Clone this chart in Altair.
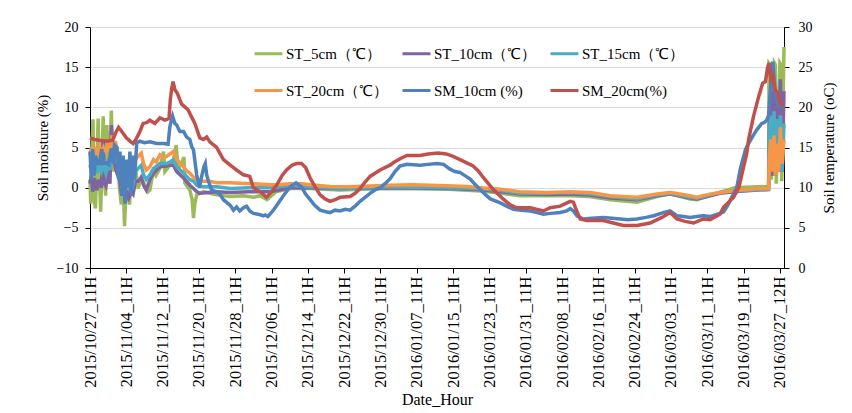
import altair as alt
import pandas as pd

series_names = ["ST_5cm（℃）", "ST_10cm（℃）", "ST_15cm（℃）",
                "ST_20cm（℃）", "SM_10cm (%)", "SM_20cm(%)"]
series_colors = ["#9BBB59", "#8064A2", "#4BACC6", "#F79646", "#4F81BD", "#C0504D"]

tick_days = [0, 8, 16, 24, 32, 40, 48, 56, 64, 72, 80, 88, 96, 104, 112, 120, 128, 136, 144, 152]
tick_labels = ["2015/10/27_11H", "2015/11/04_11H", "2015/11/12_11H", "2015/11/20_11H",
               "2015/11/28_11H", "2015/12/06_11H", "2015/12/14_11H", "2015/12/22_11H",
               "2015/12/30_11H", "2016/01/07_11H", "2016/01/15_11H", "2016/01/23_11H",
               "2016/01/31_11H", "2016/02/08_11H", "2016/02/16_11H", "2016/02/24_11H",
               "2016/03/03_11H", "2016/03/11_11H", "2016/03/19_11H", "2016/03/27_12H"]

# (day since 2015/10/27 11H, value) -- ST in degC (left axis), SM in % (right axis)
st5 = [(0, 1.0), (0.15, -2.0), (0.4, 4.5), (0.66, 8.5), (0.9, -1.5), (1.2, -2.6), (1.5, 3.0),
       (1.8, 8.6), (2.1, 1.0), (2.35, -3.0), (2.6, 2.0), (2.9, 8.9), (3.2, 1.0), (3.45, -1.0),
       (3.7, 7.8), (4.0, 2.0), (4.2, 1.2), (4.7, 9.6), (5.0, 3.0), (5.2, 2.0), (5.6, 5.2),
       (6.0, 5.0), (6.5, -0.1), (6.9, -2.1), (7.2, 3.7), (7.6, -4.8), (7.9, -0.9), (8.4, 1.2),
       (8.7, -2.1), (9.1, 1.6), (9.5, -0.5), (9.8, 3.3), (10.6, -0.1), (11.3, 1.2), (12.0, 0.4),
       (12.8, -0.5), (13.2, -0.3), (13.9, 2.0), (14.5, 1.5), (15.4, 2.4), (16.2, 4.5), (16.5, 2.0),
       (17.6, 2.8), (18.4, 3.5), (19.0, 5.3), (19.4, 2.4), (20.0, 2.8), (20.7, 3.8), (20.9, 0.6),
       (22.0, -0.3), (22.5, -1.5), (22.8, -3.8), (23.1, -2.0), (23.5, -0.9), (25, -0.5),
       (27.9, -0.9), (30.9, -1.1), (33.8, -1.0), (36, -1.2), (37.5, -1.0), (39, -1.5), (41, -0.5),
       (44, -0.1), (48.5, -0.1), (55, -0.3), (60, -0.2), (66, -0.1), (71, -0.15), (79, -0.2),
       (86, -0.4), (90.4, -0.7), (94.8, -1.0), (100.7, -1.0), (105.8, -1.0), (110, -1.1),
       (114.6, -1.5), (120.5, -1.8), (124.9, -1.1), (127.8, -0.75), (132.2, -1.4), (133.7, -1.5),
       (136.6, -1.0), (138.8, -0.6), (142, 0.0), (147, 0.1), (149.5, 0.15), (149.6, 15.5),
       (149.9, 15.3), (150.1, 1.0), (150.8, 15.5), (151.0, 15.3), (151.2, 0.5), (152.0, 15.5),
       (152.2, 15.3), (152.4, 0.8), (152.9, 17.5)]

st10 = [(0, 0.5), (0.3, 1.5), (0.6, -0.5), (1.0, 1.2), (1.5, -0.3), (2.0, 1.0), (2.5, 0.0),
        (2.9, 6.0), (3.2, 0.5), (3.5, 0.2), (4.0, 2.0), (4.4, 0.5), (4.7, 7.8), (5.2, 3.5),
        (5.8, 2.0), (6.5, 1.0), (7.0, -1.0), (7.4, 0.5), (7.8, -1.8), (8.2, -0.3), (8.6, -1.2),
        (9.1, -0.5), (9.5, -0.8), (10.0, 0.8), (10.6, 0.8), (11.3, 1.3), (11.8, 0.3), (12.4, -0.3),
        (13.2, 1.0), (14.0, 1.8), (15.4, 2.6), (16.9, 2.7), (17.6, 2.8), (18.4, 2.8), (19.1, 2.0),
        (20.6, 1.2), (22.0, 0.3), (22.8, -0.1), (23.5, -0.5), (24.2, -0.7), (27.9, -0.5),
        (30.9, -0.6), (35, -0.5), (39.7, -0.5), (44.1, 0.0), (48.5, 0.0), (55, -0.15), (60, -0.05),
        (66, 0.0), (71, -0.05), (79, -0.1), (86, -0.25), (90.4, -0.5), (94.8, -0.8), (100.7, -0.85),
        (105.8, -0.8), (110, -0.9), (114.6, -1.3), (120.5, -1.5), (124.9, -1.0), (127.8, -0.8),
        (132.2, -1.3), (133.7, -1.4), (136.6, -1.0), (138.8, -0.7), (142, -0.5), (147, -0.3),
        (149.5, -0.25), (149.7, 8.0), (150.0, 13.0), (150.3, 1.5), (150.7, 12.0), (151.0, 1.5),
        (151.4, 11.0), (151.7, 2.0), (152.1, 13.5), (152.5, 2.0), (152.9, 12.0)]

st15 = [(0, 2.5), (0.3, 3.3), (0.6, 1.5), (1.0, 3.0), (1.5, 1.8), (2.0, 3.0), (2.5, 2.0),
        (3.0, 2.8), (3.5, 1.8), (4.0, 3.0), (4.5, 2.2), (4.8, 5.0), (5.2, 3.0), (5.6, 4.5),
        (6.0, 3.5), (6.5, 2.5), (7.0, 0.5), (7.4, 1.8), (7.8, -0.2), (8.2, 1.2), (8.6, 0.2),
        (9.1, 1.0), (9.5, 0.5), (10.0, 2.0), (10.6, 2.4), (11.3, 2.8), (11.8, 1.6), (12.4, 1.0),
        (13.2, 1.6), (14.0, 2.4), (15.4, 3.0), (16.9, 3.0), (17.6, 3.2), (18.4, 3.5), (19.1, 2.6),
        (20.6, 1.8), (22.0, 1.0), (22.8, 0.8), (23.5, 0.3), (25, 0.1), (27.9, 0.1), (30.9, -0.1),
        (35, 0.0), (39.7, 0.0), (44.1, 0.3), (48.5, 0.1), (55, -0.1), (60, 0.0), (66, 0.1),
        (71, 0.05), (79, 0.0), (86, -0.15), (90.4, -0.35), (94.8, -0.7), (100.7, -0.7),
        (105.8, -0.6), (110, -0.75), (114.6, -1.1), (120.5, -1.4), (124.9, -0.9), (127.8, -0.7),
        (132.2, -1.2), (133.7, -1.3), (136.6, -0.9), (138.8, -0.6), (142, -0.4), (147, -0.25),
        (149.5, -0.2), (149.7, 7.0), (150.0, 9.0), (150.3, 2.5), (150.7, 9.5), (151.0, 2.0),
        (151.4, 8.5), (151.7, 2.5), (152.1, 9.0), (152.5, 2.0), (152.9, 8.0)]

st20 = [(0, 4.0), (0.3, 5.0), (0.6, 3.8), (1.0, 4.8), (1.5, 4.2), (2.0, 5.2), (2.5, 4.2),
        (3.0, 5.0), (3.5, 4.5), (4.0, 5.3), (4.5, 4.6), (4.8, 6.5), (5.2, 4.8), (5.6, 5.8),
        (6.0, 4.5), (6.5, 3.8), (7.0, 2.0), (7.4, 3.0), (7.8, 1.4), (8.2, 2.5), (8.6, 1.5),
        (9.1, 2.2), (9.5, 1.8), (10.0, 3.5), (10.6, 3.9), (11.3, 4.3), (11.8, 3.0), (12.4, 2.2),
        (12.8, 2.4), (13.2, 2.6), (14.0, 3.5), (14.6, 3.2), (15.4, 4.1), (16.2, 3.8), (16.9, 3.9),
        (17.6, 4.2), (18.4, 4.5), (19.1, 3.5), (19.8, 3.1), (20.6, 2.6), (21.3, 2.1), (22.0, 1.8),
        (22.8, 1.3), (23.5, 1.0), (25, 0.8), (26.4, 0.8), (27.9, 0.6), (30.9, 0.6), (33, 0.55),
        (35.3, 0.5), (39.7, 0.35), (42, 0.4), (44.1, 0.5), (46.6, 0.5), (48.5, 0.35), (52.9, 0.15),
        (57.3, 0.1), (61.7, 0.2), (66.1, 0.3), (71.2, 0.35), (78.6, 0.25), (83, 0.15), (85.9, 0.0),
        (90.4, -0.2), (94.8, -0.5), (100.7, -0.6), (105.8, -0.5), (110.2, -0.6), (114.6, -1.0),
        (117.5, -1.1), (120.5, -1.2), (124.9, -0.8), (127.8, -0.6), (130, -0.8), (132.2, -1.0),
        (133.7, -1.2), (136.6, -0.8), (138.8, -0.6), (142, -0.35), (144, -0.25), (147, -0.15),
        (149.5, -0.1), (149.7, 4.0), (150.0, 6.0), (150.3, 2.0), (150.7, 6.5), (151.0, 1.5),
        (151.4, 5.5), (151.7, 2.0), (152.1, 7.5), (152.5, 3.0), (152.9, 6.0)]

sm10 = [(0, 14.5), (0.3, 11.0), (0.6, 14.8), (0.9, 11.5), (1.2, 14.0), (1.6, 13.0), (2.1, 13.0),
        (2.6, 14.8), (3.0, 13.0), (3.6, 13.1), (4.1, 12.9), (4.7, 14.9), (5.1, 13.0), (5.4, 15.3),
        (5.9, 15.0), (6.3, 11.0), (6.6, 14.5), (7.0, 9.0), (7.3, 14.0), (7.7, 8.0), (8.0, 13.5),
        (8.4, 10.0), (8.8, 14.5), (9.1, 9.0), (9.5, 14.0), (9.8, 11.0), (10.3, 15.6), (11, 15.8),
        (12, 15.6), (13.2, 15.7), (14.7, 15.5), (16.2, 15.5), (17.2, 15.4), (17.6, 17.6),
        (18.2, 18.9), (18.7, 18.0), (19.1, 17.8), (19.8, 17.0), (20.6, 17.0), (21.3, 16.3),
        (22.0, 16.0), (22.4, 15.1), (22.8, 14.7), (23.5, 11.6), (24.1, 10.0), (24.6, 11.4),
        (25.1, 12.6), (25.4, 13.0), (25.7, 11.6), (26.1, 10.8), (26.8, 9.7), (27.9, 9.5),
        (28.7, 9.1), (29.4, 8.5), (30.9, 7.8), (31.6, 7.2), (32.3, 7.6), (33, 7.1), (33.8, 7.5),
        (34.5, 7.7), (35.2, 7.1), (36, 6.8), (37, 6.7), (38.2, 6.5), (38.6, 6.6), (39.2, 6.4),
        (40.4, 7.2), (41.5, 8.1), (42.6, 9.0), (43.4, 9.6), (44.1, 10.1), (45.4, 10.6),
        (46.6, 10.1), (47.5, 9.2), (48.5, 8.5), (49.5, 7.8), (50.7, 7.2), (52, 7.0), (52.9, 6.9),
        (54, 7.2), (55.1, 7.1), (56.2, 7.3), (57.3, 7.2), (58.4, 7.7), (59.5, 8.3), (60.6, 8.8),
        (61.7, 9.3), (63, 9.8), (64, 10.0), (65, 10.5), (66.1, 11.1), (67.2, 12.0), (68.3, 12.7),
        (69.8, 12.9), (72.7, 12.8), (74.5, 12.9), (76.4, 13.0), (77.9, 12.9), (79.3, 12.3),
        (80.4, 12.0), (81.5, 11.9), (82.6, 11.5), (83.7, 11.1), (85, 10.3), (85.9, 9.8),
        (87, 9.2), (88.2, 8.6), (90.4, 8.1), (91.8, 7.7), (93.3, 7.3), (95, 7.2), (97, 7.1),
        (98.5, 6.9), (99.9, 6.7), (101.5, 6.8), (103.6, 6.9), (105, 7.1), (105.8, 7.4),
        (106.5, 7.1), (107.3, 6.5), (108.7, 6.1), (110.5, 6.2), (113.1, 6.3), (115, 6.2),
        (116.8, 6.1), (118.5, 6.0), (120.5, 6.1), (122.5, 6.3), (124.2, 6.5), (126.3, 6.9),
        (127.8, 7.1), (129.3, 6.5), (130.8, 6.4), (132.2, 6.3), (133.7, 6.4), (135.2, 6.5),
        (136.6, 6.4), (138.8, 6.8), (139.6, 7.0), (140.5, 7.8), (141.3, 8.7), (142.5, 10.0),
        (143.3, 12.4), (144.4, 14.7), (144.7, 15.1), (145.8, 16.2), (146.9, 17.2), (148, 18.0),
        (148.5, 18.1), (149.1, 18.4), (149.5, 19.0), (149.9, 22.0), (150.4, 25.7), (150.6, 24.5),
        (150.9, 22.2), (151.3, 20.8), (151.7, 20.2), (152.2, 20.5), (152.9, 20.0)]

sm20 = [(0, 16.2), (1, 16.0), (2, 15.9), (3, 15.8), (4, 15.8), (5, 15.9), (5.8, 17.0),
        (6.3, 17.5), (7, 17.0), (8, 16.2), (9, 15.7), (9.5, 15.5), (10.3, 16.2), (11, 17.0),
        (11.7, 18.0), (12.5, 18.1), (13.2, 18.4), (14.3, 18.0), (15.4, 18.7), (16.5, 18.4),
        (17.4, 18.6), (17.7, 21.0), (18.0, 22.3), (18.3, 23.2), (18.7, 22.2), (19.2, 21.8),
        (20.2, 20.4), (21, 20.0), (21.6, 19.7), (22.2, 19.0), (23.1, 18.0), (24.2, 16.2),
        (25.0, 16.0), (25.7, 16.3), (26.4, 15.7), (27.9, 15.0), (29.4, 13.5), (30.9, 12.8),
        (32.3, 12.2), (33.8, 11.6), (35.2, 11.4), (36, 10.0), (37.5, 9.5), (38.9, 8.8), (40, 9.5),
        (41.1, 10.3), (42.3, 11.5), (43.3, 12.2), (44.5, 12.8), (45.5, 13.0), (46.6, 13.0),
        (47.5, 12.5), (48.5, 11.2), (49.5, 10.2), (50.7, 9.1), (51.8, 8.6), (52.9, 8.3), (54, 8.5),
        (55.1, 8.8), (57.3, 8.9), (58.4, 9.3), (59.5, 9.9), (60.6, 10.7), (61.7, 11.4),
        (63.9, 12.2), (66.1, 12.8), (66.8, 13.1), (68.3, 13.6), (69.8, 14.0), (72.7, 14.0),
        (74.5, 14.2), (76.7, 14.3), (78.5, 14.2), (80, 13.9), (82.2, 13.3), (84.4, 12.7),
        (85.5, 12.1), (86.6, 11.3), (88.8, 9.8), (91, 8.6), (92.5, 7.9), (94, 7.5), (97, 7.5),
        (99.9, 7.1), (101.4, 7.5), (103.6, 7.7), (105.8, 8.3), (106.5, 8.2), (107.3, 7.0),
        (108, 6.1), (109.5, 5.9), (113.1, 5.9), (115.3, 5.6), (117.5, 5.3), (120.5, 5.3),
        (123.4, 5.6), (126, 6.3), (127.8, 6.9), (129.3, 6.1), (131.1, 5.8), (133, 5.6),
        (135.1, 6.1), (136.6, 6.0), (138.8, 6.7), (139.6, 7.6), (141.8, 8.8), (143.0, 10.1),
        (144.0, 12.6), (144.7, 14.3), (145.1, 16.0), (146.2, 18.9), (147.3, 21.3), (148.2, 23.0),
        (148.8, 23.2), (149.3, 25.0), (149.6, 25.5), (150.0, 23.5), (150.4, 23.9), (150.9, 22.2),
        (151.5, 21.8), (152, 20.5), (152.9, 20.2)]

FONT = "Liberation Serif"


def frame(pairs, name):
    return pd.DataFrame({"day": [p[0] for p in pairs],
                         "value": [p[1] for p in pairs],
                         "series": name})


color_scale = alt.Scale(domain=series_names, range=series_colors)
legend = alt.Legend(orient="none", legendX=163, legendY=11, columns=3, direction="horizontal",
                    symbolType="stroke", symbolSize=784, symbolStrokeWidth=3, title=None,
                    labelFont=FONT, labelFontSize=15, labelColor="black", columnPadding=7,
                    rowPadding=13, padding=0, labelOffset=2, labelLimit=300)

label_expr = "[" + ",".join("'%s'" % t for t in tick_labels) + "][round(datum.value / 8)]"
x_enc = alt.X("day:Q",
              scale=alt.Scale(domain=[0, 152.9], nice=False, zero=False),
              axis=alt.Axis(values=tick_days, labelExpr=label_expr, title="Date_Hour",
                            labelAngle=270, grid=False, tickSize=5, labelPadding=3,
                            labelFontSize=16.5, titleFontSize=16, titlePadding=4,
                            labelOverlap=False, labelBound=False, labelFlush=False))

left_axis = alt.Axis(values=[-10, -5, 0, 5, 10, 15, 20], title="Soil moisture (%)", grid=True,
                     gridColor="#D9D9D9", gridWidth=1, tickSize=5, labelPadding=7,
                     labelFontSize=14, titleFontSize=15, titlePadding=6)
right_axis = alt.Axis(orient="right", values=[0, 5, 10, 15, 20, 25, 30],
                      title="Soil temperature (oC)", grid=False, tickSize=5, labelPadding=9,
                      labelFontSize=14, titleFontSize=15, titlePadding=24, titleAngle=270)


def line(pairs, name, axis, domain):
    return alt.Chart(frame(pairs, name)).mark_line(strokeWidth=3.5).encode(
        x=x_enc,
        y=alt.Y("value:Q", scale=alt.Scale(domain=domain, nice=False, zero=False), axis=axis),
        color=alt.Color("series:N", scale=color_scale, legend=legend),
    )


st_layer = alt.layer(
    line(st5, series_names[0], left_axis, [-10, 20]),
    line(st10, series_names[1], left_axis, [-10, 20]),
    line(st15, series_names[2], left_axis, [-10, 20]),
    line(st20, series_names[3], left_axis, [-10, 20]),
)
sm_layer = alt.layer(
    line(sm10, series_names[4], right_axis, [0, 30]),
    line(sm20, series_names[5], right_axis, [0, 30]),
)

chart = alt.layer(st_layer, sm_layer).resolve_scale(y="independent").properties(
    width=694, height=241,
    autosize=alt.AutoSizeParams(type="none"),
    padding={"left": 82, "top": 19, "right": 56, "bottom": 145},
    background="white",
).configure_view(stroke=None).configure_axis(
    domainColor="black", tickColor="black", labelColor="black", titleColor="black",
    labelFont=FONT, titleFont=FONT, titleFontWeight="normal", domainWidth=1, tickWidth=1,
)

chart.save("out.html", embed_options={"renderer": "svg", "actions": False})
